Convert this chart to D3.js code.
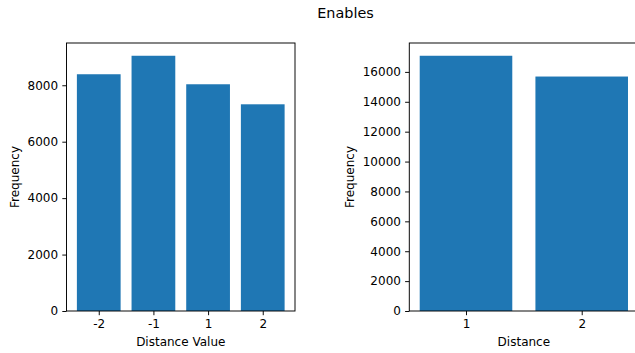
<!DOCTYPE html>
<html>
<head>
<meta charset="utf-8">
<script src="https://cdn.jsdelivr.net/npm/d3@7"></script>
<style>
  html, body { margin: 0; padding: 0; background: #fff; }
  svg { display: block; font-family: "DejaVu Sans", sans-serif; }
</style>
</head>
<body>
<svg id="chart" width="635" height="353"></svg>
<script>
// Enables: frequency of each distance value (left) and of each distance (right)
const title = "Enables";

const valueCategories = ["-2", "-1", "1", "2"];
const valueCounts = [8390, 9045, 8035, 7325];
const valueTicks = [0, 2000, 4000, 6000, 8000];

const distanceCategories = [1, 2];
const distanceCounts = [17080, 15690];
const distanceTicks = [0, 2000, 4000, 6000, 8000, 10000, 12000, 14000, 16000];

const barColor = "#1f77b4";
const fontSize = 12;
const tickLen = 4.2;
const tickPad = 4.2;
const lineW = 0.96;

const svg = d3.select("#chart");

svg.append("text")
  .attr("x", 345.5).attr("y", 17.5)
  .attr("text-anchor", "middle")
  .attr("font-size", 14.4)
  .text(title);

// Draw one panel: bars at numeric positions, with matplotlib-like 5% margins.
function panel(opts) {
  const { left, right, top, bottom, xs, labels, values, yTicks, xLabel, yLabelX } = opts;
  const g = svg.append("g");
  const barW = 0.8;
  const lo = d3.min(xs) - barW / 2, hi = d3.max(xs) + barW / 2;
  const m = (hi - lo) * 0.05;
  const x = d3.scaleLinear().domain([lo - m, hi + m]).range([left, right]);
  const y = d3.scaleLinear().domain([0, d3.max(values) * 1.05]).range([bottom, top]);

  const clipId = "clip" + Math.round(left);
  svg.append("clipPath").attr("id", clipId)
    .append("rect").attr("x", 0).attr("y", 0).attr("width", 635).attr("height", 353);

  g.selectAll("rect.bar").data(values).join("rect")
    .attr("class", "bar")
    .attr("x", (d, i) => x(xs[i] - barW / 2))
    .attr("width", (d, i) => x(xs[i] + barW / 2) - x(xs[i] - barW / 2))
    .attr("y", d => y(d))
    .attr("height", d => y(0) - y(d))
    .attr("fill", barColor);

  // spines
  const sp = g.append("g").attr("stroke", "#000").attr("stroke-width", lineW).attr("fill", "none");
  sp.append("rect").attr("x", left).attr("y", top).attr("width", right - left).attr("height", bottom - top);

  // y axis
  const yAxis = d3.axisLeft(y).tickValues(yTicks).tickSize(tickLen).tickPadding(tickPad).tickFormat(d3.format("d"));
  const ya = g.append("g").attr("transform", `translate(${left},0)`).call(yAxis);
  // x axis
  const xAxis = d3.axisBottom(x).tickValues(xs).tickSize(tickLen).tickPadding(tickPad)
    .tickFormat((d, i) => labels[i]);
  const xa = g.append("g").attr("transform", `translate(0,${bottom})`).call(xAxis);

  [ya, xa].forEach(a => {
    a.select(".domain").remove();
    a.selectAll("line").attr("stroke", "#000").attr("stroke-width", lineW);
    a.selectAll("text").attr("font-size", fontSize).attr("font-family", "DejaVu Sans, sans-serif").attr("fill", "#000");
  });
  xa.selectAll("text").attr("dy", null).attr("y", tickLen + tickPad + 8.8);

  g.append("text")
    .attr("x", (left + right) / 2).attr("y", 345.5)
    .attr("text-anchor", "middle").attr("font-size", fontSize)
    .text(xLabel);

  g.append("text")
    .attr("transform", `translate(${yLabelX},${(top + bottom) / 2}) rotate(-90)`)
    .attr("text-anchor", "middle").attr("font-size", fontSize)
    .text("Frequency");
}

panel({
  left: 66.5, right: 295, top: 43, bottom: 311,
  xs: valueCategories.map((d, i) => i), labels: valueCategories, values: valueCounts,
  yTicks: valueTicks, xLabel: "Distance Value", yLabelX: 18.5
});

panel({
  left: 409.3, right: 638.4, top: 43, bottom: 311,
  xs: distanceCategories, labels: distanceCategories.map(String), values: distanceCounts,
  yTicks: distanceTicks, xLabel: "Distance", yLabelX: 354
});
</script>
</body>
</html>
